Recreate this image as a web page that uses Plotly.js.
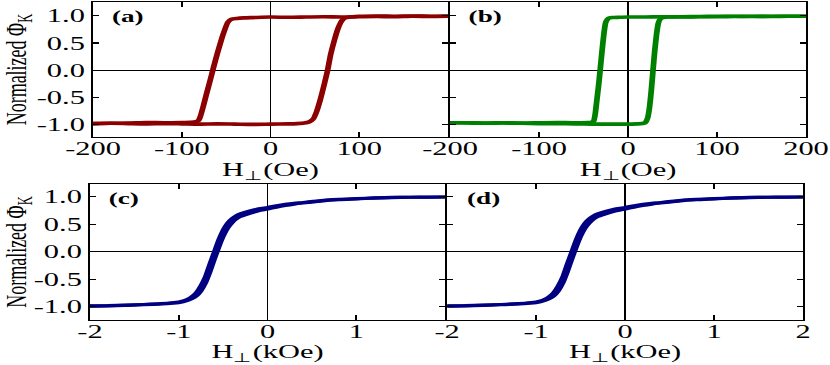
<!DOCTYPE html>
<html>
<head>
<meta charset="utf-8">
<script src="https://cdn.plot.ly/plotly-3.0.1.min.js"></script>
<style>
html,body{margin:0;padding:0;background:#fff;}
#wrap{width:830px;height:365px;overflow:hidden;position:relative;}
#plot{width:519px;height:365px;transform:scaleX(1.59923);transform-origin:0 0;}
</style>
</head>
<body>
<div id="wrap"><div id="plot"></div></div>
<script>
// ---- Panel (a): field in Oe ----
const aH_down = [200, 180, 160, 140, 120, 100, 80, 60, 40, 20, 0, -20, -30, -38, -44, -48, -52, -56, -60, -64, -68, -72, -76, -79, -81, -83, -86, -90, -100, -120, -140, -160, -180, -200];
const aPhi_down = [0.99, 0.985, 0.99, 0.98, 0.985, 0.98, 0.975, 0.98, 0.975, 0.97, 0.975, 0.965, 0.96, 0.95, 0.935, 0.88, 0.72, 0.52, 0.30, 0.06, -0.19, -0.43, -0.68, -0.85, -0.92, -0.94, -0.95, -0.955, -0.96, -0.965, -0.96, -0.97, -0.975, -0.98];
const aH_up = [-200, -180, -160, -140, -120, -100, -80, -60, -40, -20, 0, 20, 30, 38, 44, 48, 52, 56, 60, 64, 68, 72, 76, 79, 81, 83, 86, 90, 100, 120, 140, 160, 180, 200];
const aPhi_up = [-0.98, -0.975, -0.98, -0.985, -0.98, -0.985, -0.99, -0.985, -0.99, -0.995, -0.99, -0.985, -0.98, -0.97, -0.945, -0.9, -0.76, -0.55, -0.3, -0.03, 0.3, 0.55, 0.76, 0.87, 0.92, 0.95, 0.965, 0.975, 0.99, 0.995, 0.99, 0.995, 0.99, 0.995];

// ---- Panel (b): field in Oe ----
const bH_down = [200, 180, 160, 140, 120, 100, 80, 60, 40, 20, 0, -10, -18, -22, -25, -27, -29, -31, -33, -35, -37, -38.5, -40, -45, -60, -80, -100, -120, -140, -160, -180, -200];
const bPhi_down = [0.99, 0.99, 0.985, 0.99, 0.985, 0.98, 0.98, 0.975, 0.98, 0.975, 0.975, 0.97, 0.965, 0.95, 0.88, 0.68, 0.38, 0.05, -0.27, -0.55, -0.82, -0.93, -0.955, -0.96, -0.965, -0.96, -0.965, -0.97, -0.965, -0.97, -0.965, -0.965];
const bH_up = [-200, -180, -160, -140, -120, -100, -80, -60, -40, -20, 0, 10, 16, 19.5, 22, 24, 26, 28, 30, 32, 34, 36, 38, 45, 60, 80, 100, 120, 140, 160, 180, 200];
const bPhi_up = [-0.965, -0.97, -0.975, -0.97, -0.975, -0.98, -0.98, -0.985, -0.99, -0.99, -0.99, -0.985, -0.98, -0.96, -0.88, -0.7, -0.4, -0.02, 0.35, 0.65, 0.86, 0.935, 0.96, 0.975, 0.98, 0.985, 0.99, 0.99, 0.985, 0.99, 0.99, 0.99];

// ---- Panels (c) and (d): field in kOe ----
const cH = [-2, -1.8, -1.6, -1.4, -1.2, -1.0, -0.95, -0.9, -0.85, -0.8, -0.75, -0.7, -0.65, -0.6, -0.55, -0.5, -0.45, -0.4, -0.35, -0.3, -0.2, -0.1, 0, 0.1, 0.2, 0.3, 0.4, 0.6, 0.8, 1.0, 1.2, 1.4, 1.6, 1.8, 2.0];
const cPhi_up = [-0.99, -0.985, -0.975, -0.965, -0.95, -0.925, -0.91, -0.885, -0.85, -0.80, -0.71, -0.57, -0.37, -0.14, 0.08, 0.28, 0.43, 0.53, 0.60, 0.645, 0.70, 0.745, 0.775, 0.81, 0.84, 0.865, 0.885, 0.92, 0.945, 0.96, 0.975, 0.985, 0.99, 0.99, 0.995];
const cPhi_down = [-0.985, -0.98, -0.97, -0.96, -0.945, -0.915, -0.895, -0.865, -0.815, -0.74, -0.62, -0.46, -0.23, -0.01, 0.21, 0.39, 0.52, 0.60, 0.655, 0.69, 0.74, 0.78, 0.805, 0.835, 0.86, 0.88, 0.895, 0.93, 0.95, 0.965, 0.978, 0.988, 0.99, 0.992, 0.995];

// ---- ticks / labels ----
const yTickVals = [1.0, 0.5, 0.0, -0.5, -1.0];
const yTickText = ["1.0", "0.5", "0.0", "-0.5", "-1.0"];
const aTickVals = [-200, -100, 0, 100];
const aTickText = ["-200", "-100", "0", "100"];
const bTickVals = [-200, -100, 0, 100, 200];
const bTickText = ["-200", "-100", "0", "100", "200"];
const cTickVals = [-2, -1, 0, 1];
const cTickText = ["-2", "-1", "0", "1"];
const dTickVals = [-2, -1, 0, 1, 2];
const dTickText = ["-2", "-1", "0", "1", "2"];
const panelLabels = ["(a)", "(b)", "(c)", "(d)"];
const yTitle = "Normalized Φ<sub>K</sub>";
const xTitleOe = "H<sub>⊥</sub>(Oe)";
const xTitleKOe = "H<sub>⊥</sub>(kOe)";

const red = "rgb(139,0,0)", green = "rgb(0,128,0)", navy = "rgb(0,0,128)";
const LW = 3.6;
function tr(x, y, xa, ya, c, w) {
  return {x: x, y: y, xaxis: xa, yaxis: ya, type: "scatter", mode: "lines",
          line: {color: c, width: w || LW, shape: "spline", smoothing: 0.6}, hoverinfo: "skip", showlegend: false};
}
const data = [
  tr(aH_down, aPhi_down, "x", "y", red), tr(aH_up, aPhi_up, "x", "y", red),
  tr(bH_down, bPhi_down, "x2", "y2", green), tr(bH_up, bPhi_up, "x2", "y2", green),
  tr(cH, cPhi_up, "x3", "y3", navy, 3.2), tr(cH, cPhi_down, "x3", "y3", navy, 3.2),
  tr(cH, cPhi_up, "x4", "y4", navy, 3.2), tr(cH, cPhi_down, "x4", "y4", navy, 3.2)
];

const FONT = "'Liberation Serif', 'Times New Roman', serif";
const W = 519, H = 365;
const ALW = 1.3;
function xax(dom, rng, tv, tt, title, anchor, standoff) {
  return {domain: dom, range: rng, anchor: anchor, tickmode: "array", tickvals: tv, ticktext: tt,
    showline: true, linecolor: "black", linewidth: ALW, mirror: "ticks",
    ticks: "inside", ticklen: 5, tickwidth: 1.1, tickcolor: "black",
    ticklabelstandoff: -6,
    zeroline: true, zerolinecolor: "black", zerolinewidth: 1.0, showgrid: false,
    tickfont: {family: FONT, size: 19, color: "black"},
    title: {text: title, font: {family: FONT, size: 19, color: "black"}, standoff: standoff}};
}
function yax(dom, rng, showLabels, anchor) {
  const o = {domain: dom, range: rng, anchor: anchor, tickmode: "array", tickvals: yTickVals, ticktext: yTickText,
    showticklabels: showLabels,
    showline: true, linecolor: "black", linewidth: ALW, mirror: "ticks",
    ticks: "inside", ticklen: 3.5, tickwidth: 1.2, tickcolor: "black",
    zeroline: true, zerolinecolor: "black", zerolinewidth: 1.0, showgrid: false,
    tickfont: {family: FONT, size: 19, color: "black"}};
  if (showLabels) o.title = {text: yTitle, font: {family: FONT, size: 18, color: "black"}, standoff: 5};
  return o;
}
const px = v => v / W;
const topDom = [(H - 137) / H, (H - 2) / H];
const botDom = [(H - 320) / H, (H - 184) / H];
const topR = [-1.226, 1.251];
const botR = [-1.242, 1.231];

const layout = {
  width: W, height: H, margin: {l: 0, r: 0, t: 0, b: 0},
  paper_bgcolor: "white", plot_bgcolor: "white",
  font: {family: FONT, color: "black"},
  xaxis: xax([px(58.15), px(280.1)], [-200, 200], aTickVals, aTickText, xTitleOe, "y", 2),
  yaxis: yax(topDom, topR, true, "x"),
  xaxis2: xax([px(280.1 + ALW), px(504.0)], [-200, 200], bTickVals, bTickText, xTitleOe, "y2", 2),
  yaxis2: yax(topDom, topR, false, "x2"),
  xaxis3: xax([px(56.28), px(278.3)], [-2, 2], cTickVals, cTickText, xTitleKOe, "y3", 0),
  yaxis3: yax(botDom, botR, true, "x3"),
  xaxis4: xax([px(278.3 + ALW), px(502.1)], [-2, 2], dTickVals, dTickText, xTitleKOe, "y4", 0),
  yaxis4: yax(botDom, botR, false, "x4"),
  annotations: panelLabels.map((t, i) => ({
    text: "<b>" + t + "</b>", showarrow: false,
    xref: (i === 0 ? "x" : "x" + (i + 1)) + " domain", yref: (i === 0 ? "y" : "y" + (i + 1)) + " domain",
    x: 0.045, y: 0.975, xanchor: "left", yanchor: "top",
    font: {family: FONT, size: 17, color: "black"}
  }))
};

Plotly.newPlot("plot", data, layout, {staticPlot: true, displayModeBar: false});
</script>
</body>
</html>
